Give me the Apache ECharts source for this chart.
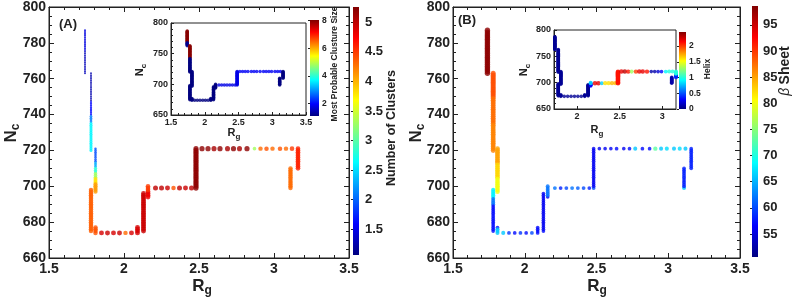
<!DOCTYPE html>
<html><head><meta charset="utf-8">
<script src="https://cdn.jsdelivr.net/npm/echarts@6/dist/echarts.min.js"></script>
<style>html,body{margin:0;padding:0;background:#fff}#c{width:792px;height:299px}</style>
</head><body><div id="c"></div>
<script>
// ---------- DATA ----------
const rg = [
 // S1 Rg 1.74
 1.74,1.74,1.74,1.74,1.74,1.74,1.74,1.74,1.74,1.74,1.74,1.74,1.74,1.74,1.74,1.74,1.74,1.74,1.74,1.74,1.74,1.74,1.74,1.74,1.74,
 // S2 Rg 1.78
 1.78,1.78,1.78,1.78,1.78,1.78,1.78,1.78,1.78,1.78,1.78,1.78,1.78,1.78,1.78,1.78,1.78,1.78,1.78,1.78,1.78,1.78,
 1.78,1.78,1.78,1.78,1.78,1.78,1.78,1.78,1.78,1.78,1.78,1.78,1.78,1.78,1.78,1.78,1.78,1.78,1.78,1.78,1.78,1.78,
 // S3 Rg 1.81
 1.81,1.81,1.81,1.81,1.81,1.81,1.81,1.81,1.81,1.81,1.81,1.81,1.81,1.81,1.81,1.81,1.81,1.81,1.81,1.81,1.81,1.81,1.81,1.81,1.81,
 // S4 Rg 1.78
 1.78,1.78,1.78,1.78,1.78,1.78,1.78,1.78,1.78,1.78,1.78,1.78,1.78,1.78,1.78,1.78,1.78,1.78,1.78,1.78,1.78,1.78,1.78,1.78,
 // S5
 1.81,1.81,1.81,1.81,
 // S6 Nc 674 row
 1.85,1.89,1.93,1.97,2.01,2.05,
 // S7
 2.09,2.09,2.09,2.09,
 // S8 Rg 2.13
 2.13,2.13,2.13,2.13,2.13,2.13,2.13,2.13,2.13,2.13,2.13,2.13,2.13,2.13,2.13,2.13,2.13,2.13,2.13,2.13,2.13,2.13,
 // S9 Rg 2.16
 2.16,2.16,2.16,2.16,2.16,2.16,2.16,
 // S10 Nc 699 row
 2.21,2.25,2.29,2.33,2.37,2.41,2.45,
 // S11 Rg 2.48
 2.48,2.48,2.48,2.48,2.48,2.48,2.48,2.48,2.48,2.48,2.48,2.48,2.48,2.48,2.48,2.48,2.48,2.48,2.48,2.48,2.48,2.48,2.48,
 // S12 Nc 721 row
 2.52,2.56,2.60,2.64,2.69,2.73,2.77,2.82,2.87,2.91,2.95,2.99,3.04,3.08,3.12,
 // S13 Rg 3.11
 3.11,3.11,3.11,3.11,3.11,3.11,3.11,3.11,3.11,3.11,3.11,3.11,
 // S14 Rg 3.16
 3.16,3.16,3.16,3.16,3.16,3.16,3.16,3.16,3.16,3.16,3.16,3.16
];
const nc = [
 787,786,785,784,783,782,781,780,779,778,777,776,775,774,773,772,771,770,769,768,767,766,765,764,763,
 763,762,761,760,759,758,757,756,755,754,753,752,751,750,749,748,747,746,745,744,743,742,
 741,740,739,738,737,736,735,734,733,732,731,730,729,728,727,726,725,724,723,722,721,720,
 721,720,719,718,717,716,715,714,713,712,711,710,709,708,707,706,705,704,703,702,701,700,699,698,697,
 698,697,696,695,694,693,692,691,690,689,688,687,686,685,684,683,682,681,680,679,678,677,676,675,
 677,676,675,674,
 674,674,674,674,674,674,
 674,675,676,677,
 675,676,677,678,679,680,681,682,683,684,685,686,687,688,689,690,691,692,693,694,695,696,
 694,695,696,697,698,699,700,
 699,699,699,699,699,699,699,
 699,700,701,702,703,704,705,706,707,708,709,710,711,712,713,714,715,716,717,718,719,720,721,
 721,721,721,721,721,721,721,721,721,721,721,721,721,721,721,
 699,700,701,702,703,704,705,706,707,708,709,710,
 710,711,712,713,714,715,716,717,718,719,720,721
];
// panel (A): number of clusters
const nClusters = [
 1.45,1.45,1.45,1.45,1.45,1.45,1.45,1.45,1.45,1.45,1.45,1.45,1.3,1.3,1.3,1.3,1.3,1.3,1.3,1.3,1.3,1.3,1.3,1.3,1.3,
 1.25,1.25,1.25,1.25,1.25,1.25,1.25,1.25,1.25,1.25,1.25,1.25,1.25,1.25,1.25,1.25,1.6,1.6,1.6,1.6,1.6,1.6,
 1.6,1.6,2.1,2.1,2.1,2.1,2.6,2.6,2.6,2.6,2.6,2.6,2.6,2.6,2.6,2.6,2.6,2.6,2.6,2.6,2.6,2.6,
 1.9,1.9,1.9,1.9,1.9,1.9,1.9,1.9,2.3,2.3,2.3,2.8,2.8,2.8,3.3,3.3,3.3,3.8,3.8,3.8,4.1,4.1,4.1,4.1,4.1,
 4.35,4.35,4.35,4.35,4.35,4.35,4.35,4.35,4.35,4.35,4.35,4.35,4.35,4.35,4.35,4.35,4.35,4.35,4.35,4.35,4.35,4.35,4.35,4.35,
 4.4,4.4,4.4,4.4,
 4.9,4.95,4.9,4.95,4.3,4.9,
 4.9,4.9,4.9,4.9,
 4.95,4.95,4.95,4.95,4.95,4.95,4.95,4.95,4.95,4.95,4.95,4.95,4.95,4.95,4.95,4.95,4.95,4.95,4.95,4.95,4.95,4.95,
 4.8,4.8,4.8,4.8,4.5,4.5,4.5,
 5.0,5.0,4.95,4.4,5.0,4.95,5.0,
 5.2,5.2,5.2,5.2,5.2,5.2,5.2,5.2,5.2,5.2,5.2,5.2,5.2,5.2,5.2,5.2,5.2,5.2,5.2,5.2,5.2,5.2,5.2,
 5.2,5.2,5.1,5.2,5.1,5.2,5.1,5.2,3.3,4.3,4.4,4.3,4.4,4.3,4.5,
 4.3,4.3,4.3,4.3,4.3,4.3,4.3,4.3,4.3,4.3,4.3,4.3,
 4.6,4.6,4.6,4.6,4.6,4.6,4.6,4.6,4.6,4.6,4.6,4.6
];
// inset (A): most probable cluster size
const clusterSize = [
 8,8,8,8,8,8,8,8,8,8,8,8,8,8,8,8,8,8,8,1.2,1.2,1.2,1.2,1.2,1.2,
 8,8,8,8,8,8,8,8,8,8,8,8,8,8,8,8,8,8,8,8,8,1.1,
 1.1,1.1,1.1,1.1,1.1,1.1,1.1,1.1,1.1,1.1,1.1,1.1,1.1,1.1,1.1,1.1,1.1,1.1,1.1,1.1,1.1,1.1,
 1.1,1.1,1.1,1.1,1.1,1.1,1.1,1.1,1.1,1.1,1.1,1.1,1.1,1.1,1.1,1.1,1.1,1.1,1.1,1.1,1.1,1.1,1.1,1.1,1.1,
 1.1,1.1,1.1,1.1,1.1,1.1,1.1,1.1,1.1,1.1,1.1,1.1,1.1,1.1,1.1,1.1,1.1,1.1,1.1,1.1,1.1,1.1,1.1,1.1,
 1.1,1.1,1.1,1.1,
 1.1,1.1,1.1,1.1,1.1,1.1,
 1.1,1.1,1.1,1.1,
 1.1,1.1,1.1,1.1,1.1,1.1,1.1,1.1,1.1,1.1,1.1,1.1,1.1,1.1,1.1,1.1,1.1,1.1,1.1,1.1,1.1,1.1,
 1.1,1.1,1.1,1.1,1.1,1.1,1.1,
 1.8,1.8,1.8,1.8,1.8,1.8,1.8,
 1.8,1.8,1.8,1.8,1.8,1.8,1.8,1.8,1.8,1.8,1.8,1.8,1.8,1.8,1.8,1.8,1.8,1.8,1.8,1.8,1.8,1.8,1.8,
 1.9,1.9,1.9,1.9,1.9,1.9,1.9,1.9,1.9,1.9,1.9,1.9,1.9,1.9,1.9,
 1.1,1.1,1.1,1.1,1.1,1.1,1.1,1.1,1.1,1.1,1.1,1.1,
 1.1,1.1,1.1,1.1,1.1,1.1,1.1,1.1,1.1,1.1,1.1,1.1
];
// panel (B): beta sheet
const betaSheet = [
 98,98,98,98,98,98,98,98,98,98,98,98,98,98,98,98,98,98,98,98,98,98,98,98,98,
 89,89,89,89,89,89,89,89,89,89,89,89,89,89,87.5,87.5,87.5,87.5,87.5,87.5,87.5,87.5,
 87.5,87.5,87.5,87.5,87.5,87.5,87.5,86.5,86.5,86.5,86.5,86.5,86.5,86.5,86.5,86.5,86.5,86.5,86.5,86.5,86.5,86.5,
 85,85,85,85,85,85,85,85,85,82.5,82.5,82.5,82.5,82.5,82.5,82.5,82.5,80,80,80,80,80,80,80,80,
 68,68,68,68,68,62,62,62,62,57,57,57,57,57,57,57,57,57,57,57,57,57,57,57,57,
 66,66,66,66,
 59,57,59,57,60,57,
 57,57,57,57,
 56,56,56,56,56,56,56,56,56,56,56,56,56,56,56,56,56,56,56,56,56,56,
 62,62,62,62,62,62,62,
 58,60,62,61,60,58,60,
 56,56,56,56,56,56,56,56,56,56,56,56,56,56,56,56,56,56,56,56,56,56,56,
 56,56,57,56,57,66,57,57,73,66,67,66,67,66,66,
 58,58,58,58,58,58,58,58,58,58,58,58,
 58,58,58,58,58,58,58,58,58,58,58,58
];
// inset (B): helix
const helix = [
 0.05,0.05,0.05,0.05,0.05,0.05,0.05,0.05,0.05,0.05,0.05,0.05,0.05,0.05,0.05,0.05,0.05,0.05,0.05,0.05,0.05,0.05,0.05,0.05,0.05,
 0.05,0.05,0.05,0.05,0.05,0.05,0.05,0.05,0.05,0.05,0.05,0.05,0.05,0.05,0.05,0.05,0.05,0.05,0.05,0.05,0.05,0.05,
 0.05,0.05,0.05,0.05,0.05,0.05,0.05,0.05,0.05,0.05,0.05,0.05,0.05,0.05,0.05,0.05,0.05,0.05,0.05,0.05,0.05,0.05,
 0.05,0.05,0.05,0.05,0.05,0.05,0.05,0.05,0.05,0.05,0.05,0.05,0.05,0.05,0.05,0.05,0.05,0.05,0.05,0.05,0.05,0.05,0.05,0.05,0.05,
 0.05,0.05,0.05,0.05,0.05,0.05,0.05,0.05,0.05,0.05,0.05,0.05,0.05,0.05,0.05,0.05,0.05,0.05,0.05,0.05,0.05,0.05,0.05,0.05,
 0.05,0.05,0.05,0.05,
 0.05,0.05,0.05,0.05,0.05,0.05,
 0.05,0.05,0.05,0.05,
 0.05,0.05,0.05,0.05,0.05,0.05,0.05,0.05,0.05,0.05,0.05,0.05,0.05,0.05,0.05,0.05,0.05,0.05,0.05,0.05,0.05,0.05,
 0.3,0.3,0.3,0.3,0.3,0.8,0.8,
 2.2,2.2,0.8,1.6,1.6,1.7,1.7,
 2.1,2.1,2.1,2.1,2.1,2.1,2.1,2.1,2.1,2.1,2.1,2.1,2.1,2.1,2.1,2.1,2.1,2.1,2.1,2.1,2.1,2.1,2.1,
 2.2,2.3,2.1,1.3,2.0,2.2,2.2,2.1,0.1,0.1,0.2,0.3,0.9,1.0,1.0,
 0.1,0.1,0.1,0.1,0.1,0.1,0.1,0.1,0.1,0.1,0.1,0.1,
 0.4,0.4,0.4,0.4,0.4,0.4,0.4,1.0,1.0,1.0,1.0,1.0
];
// tick labels
const xTicksMain = [1.5, 2, 2.5, 3, 3.5];
const yTicksMain = [660, 680, 700, 720, 740, 760, 780, 800];
const cbTicksA = [1.5, 2, 2.5, 3, 3.5, 4, 4.5, 5];
const cbTicksAin = [2, 4, 6, 8];
const cbTicksB = [55, 60, 65, 70, 75, 80, 85, 90, 95];
const cbTicksBin = [0, 0.5, 1, 1.5, 2];
const xTicksInB = [2, 2.5, 3];

// ---------- CHART ----------
const F = 'Liberation Sans';
const JET = ['#000080','#0000ff','#0080ff','#00ffff','#80ff80','#ffff00','#ff8000','#ff0000','#800000'];
const ranges = { A:[1.06,5.26], Ain:[1.1,8.05], B:[50.6,98.6], Bin:[0,2.45] };

const L = {
  A:   {left:49, top:7, width:300, height:251},
  Ain: {left:171, top:23, width:135, height:92},
  cA:  {left:353, top:7, width:6, height:248},
  cAin:{left:310, top:20, width:9, height:96},
  B:   {left:453, top:7, width:287, height:251},
  Bin: {left:554, top:30, width:122, height:79},
  cB:  {left:752, top:6, width:6, height:251},
  cBin:{left:679, top:32, width:7, height:77}
};
const gridOrder = ['A','Ain','cA','cAin','B','Bin','cB','cBin'];
const grids = gridOrder.map(k => Object.assign({containLabel:false, show: (k==='A'||k==='B'||k==='Ain'||k==='Bin'), borderColor:'#222', borderWidth:1, backgroundColor:'#fff'}, L[k]));

const lab = (size) => ({fontFamily:F, fontWeight:'bold', fontSize:size, color:'#222'});
const blackLine = {show:true, lineStyle:{color:'#222', width:1}};

function mainX(gi, pos){ return {gridIndex:gi, type:'value', position:pos, min:1.5, max:3.5, interval:0.5,
  axisLine:blackLine, axisTick:{show:true, inside:true, length:5, lineStyle:{color:'#222'}},
  minorTick:{show:true, splitNumber:5, length:3, lineStyle:{color:'#222'}},
  axisLabel: pos==='bottom' ? Object.assign(lab(14),{margin:4, customValues:xTicksMain}) : {show:false},
  splitLine:{show:false}}; }
function mainY(gi, pos){ return {gridIndex:gi, type:'value', position:pos, min:660, max:800, interval:20,
  axisLine:blackLine, axisTick:{show:true, inside:true, length:5, lineStyle:{color:'#222'}},
  minorTick:{show:true, splitNumber:4, length:3, lineStyle:{color:'#222'}},
  axisLabel: pos==='left' ? Object.assign(lab(14),{margin:3, customValues:yTicksMain}) : {show:false},
  splitLine:{show:false}}; }
function cbY(gi, r, ticks, size, margin){ return {gridIndex:gi, type:'value', position:'right', min:r[0], max:r[1],
  axisLine:{show:false}, axisTick:{show:true, inside:true, length:2, customValues:ticks, lineStyle:{color:'#222'}},
  axisLabel:Object.assign(lab(size),{margin:margin, customValues:ticks}), splitLine:{show:false}}; }
const hidX = gi => ({gridIndex:gi, type:'value', show:false, min:0, max:1});

const xAxes = [
  mainX(0,'bottom'), mainX(0,'top'),
  {gridIndex:1, type:'value', min:1.5, max:3.5, interval:0.5, axisLine:blackLine,
   axisTick:{inside:true, length:3, lineStyle:{color:'#222'}}, minorTick:{show:true, splitNumber:5, length:2, lineStyle:{color:'#222'}},
   axisLabel:Object.assign(lab(9),{margin:3}), splitLine:{show:false}},
  hidX(2), hidX(3),
  mainX(4,'bottom'), mainX(4,'top'),
  {gridIndex:5, type:'value', min:1.73, max:3.16, axisLine:blackLine,
   axisTick:{inside:true, length:3, customValues:xTicksInB, lineStyle:{color:'#222'}},
   axisLabel:Object.assign(lab(9),{margin:3, customValues:xTicksInB}), splitLine:{show:false}},
  hidX(6), hidX(7)
];
const yAxes = [
  mainY(0,'left'), mainY(0,'right'),
  {gridIndex:1, type:'value', min:650, max:800, interval:50, axisLine:blackLine,
   axisTick:{inside:true, length:3, lineStyle:{color:'#222'}}, minorTick:{show:true, splitNumber:5, length:2, lineStyle:{color:'#222'}},
   axisLabel:Object.assign(lab(9),{margin:3}), splitLine:{show:false}},
  cbY(2, ranges.A, cbTicksA, 13, 6),
  cbY(3, ranges.Ain, cbTicksAin, 8.5, 3),
  mainY(4,'left'), mainY(4,'right'),
  {gridIndex:5, type:'value', min:650, max:800, interval:50, axisLine:blackLine,
   axisTick:{inside:true, length:3, lineStyle:{color:'#222'}}, minorTick:{show:true, splitNumber:5, length:2, lineStyle:{color:'#222'}},
   axisLabel:Object.assign(lab(9),{margin:3}), splitLine:{show:false}},
  cbY(6, ranges.B, cbTicksB, 13, 5),
  cbY(7, ranges.Bin, cbTicksBin, 8.5, 3)
];

const pts = vals => rg.map((x,i) => [x, nc[i], vals[i]]);
const series = [
  {type:'scatter', xAxisIndex:0, yAxisIndex:0, data:pts(nClusters), symbolSize:d=>1+0.8*d[2], z:5},
  {type:'scatter', xAxisIndex:2, yAxisIndex:2, data:pts(clusterSize), symbolSize:3.5, z:5},
  {type:'scatter', xAxisIndex:5, yAxisIndex:5, data:pts(betaSheet), symbolSize:d=>3.6+(d[2]-55)/43*1.8, z:5},
  {type:'scatter', xAxisIndex:7, yAxisIndex:7, data:pts(helix), symbolSize:d=>3.6+d[2]*0.4, z:5, clip:true}
];
const vm = (si, r) => ({type:'continuous', show:false, seriesIndex:si, dimension:2, min:r[0], max:r[1], inRange:{color:JET}});
const visualMap = [vm(0,ranges.A), vm(1,ranges.Ain), vm(2,ranges.B), vm(3,ranges.Bin)];

const grad = () => new echarts.graphic.LinearGradient(0,1,0,0, JET.map((c,i)=>({offset:i/(JET.length-1), color:c})));
const cbRect = k => ({type:'rect', shape:{x:L[k].left, y:L[k].top, width:L[k].width, height:L[k].height}, style:{fill:grad()}, z:1});

function sub(main, s, x, y, big, small, rot, drop){
  return {type:'text', x:x, y:y, rotation:rot||0, z:10,
    style:{text:'{n|'+main+'}{s|'+s+'}', align:'center', verticalAlign:'middle',
      rich:{n:{fontFamily:F, fontWeight:'bold', fontSize:big, verticalAlign:'top', fill:'#222'},
            s:{fontFamily:F, fontWeight:'bold', fontSize:small, verticalAlign:'top', padding:[drop,0,0,0], fill:'#222'}}}};
}
function txt(t, x, y, size, rot){
  return {type:'text', x:x, y:y, rotation:rot||0, z:10,
    style:{text:t, align:'center', verticalAlign:'middle', fontFamily:F, fontWeight:'bold', fontSize:size, fill:'#222'}};
}
const R90 = Math.PI/2;
const graphic = [
  cbRect('cA'), cbRect('cAin'), cbRect('cB'), cbRect('cBin'),
  txt('(A)', 68, 24, 13), txt('(B)', 467, 20, 13),
  sub('N','c', 12, 133, 17, 12, R90, 7),
  sub('R','g', 202, 287, 17, 12, 0, 7),
  sub('N','c', 417, 133, 17, 12, R90, 7),
  sub('R','g', 597, 287, 17, 12, 0, 7),
  sub('N','c', 141, 70, 11, 8, R90, 5),
  sub('R','g', 234, 134, 11, 8, 0, 5),
  sub('N','c', 525, 70, 11, 8, R90, 5),
  sub('R','g', 597, 131, 11, 8, 0, 5),
  txt('Number of Clusters', 392, 128, 12.5, R90),
  txt('Most Probable Clusture Size', 335, 64, 8.5, R90),
  txt('Helix', 708, 69, 8.5, R90),
  {type:'text', x:785, y:71, rotation:R90, z:10,
   style:{text:'{b|β} {t|Sheet}', align:'center', verticalAlign:'middle',
     rich:{b:{fontFamily:F, fontStyle:'italic', fontSize:14, fill:'#222'}, t:{fontFamily:F, fontWeight:'bold', fontSize:14, fill:'#222'}}}}
];

const chart = echarts.init(document.getElementById('c'), null, {renderer:'canvas'});
chart.setOption({animation:false, backgroundColor:'#fff', grid:grids, xAxis:xAxes, yAxis:yAxes, series:series, visualMap:visualMap, graphic:graphic});
</script></body></html>
